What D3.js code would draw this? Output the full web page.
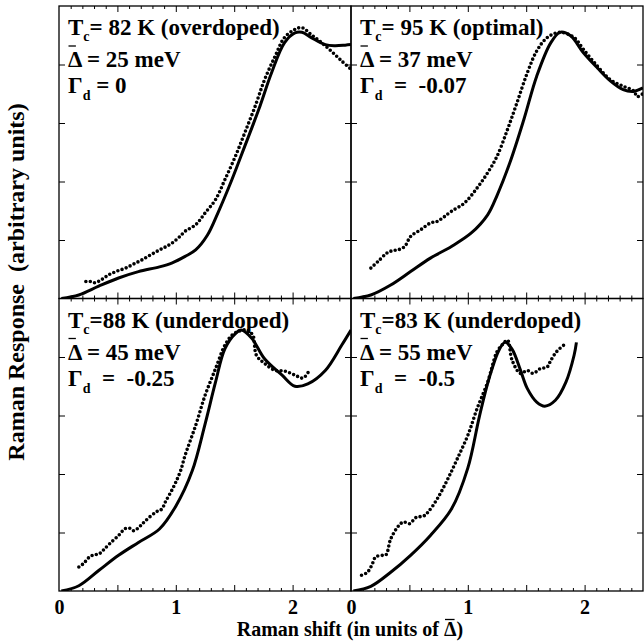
<!DOCTYPE html>
<html>
<head>
<meta charset="utf-8" />
<script src="https://cdn.jsdelivr.net/npm/d3@7"></script>
<style>
html, body {
  margin: 0;
  padding: 0;
  background: #fff;
}
svg text {
  font-family: "Liberation Serif", "DejaVu Serif", serif;
  font-weight: bold;
  fill: #000;
  white-space: pre;
}
.frame {
  fill: none;
  stroke: #000;
  stroke-width: 1.3;
}
.tick line {
  stroke: #000;
  stroke-width: 1;
}
.theory {
  fill: none;
  stroke: #000;
  stroke-width: 3;
}
.data {
  fill: none;
  stroke: #000;
  stroke-width: 3.6;
  stroke-linecap: round;
  stroke-dasharray: 0 4.4;
}
</style>
</head>
<body>
<div id="chart"></div>
<script>
// ---- values (x in units of gap, y in arbitrary units 0..5)
var tcText    = ["= 82 K (overdoped)", "= 95 K (optimal)", "=88 K (underdoped)", "=83 K (underdoped)"];
var gapText   = [" = 25 meV", " = 37 meV", " = 45 meV", " = 55 meV"];
var gammaText = [" = 0", "  =  -0.07", "  =  -0.25", "  =  -0.5"];

var theoryAx = [0.02, 0.17, 0.34, 0.51, 0.68, 0.86, 0.97, 1.08, 1.17, 1.27, 1.36, 1.48, 1.59, 1.71, 1.82, 1.93, 2.02, 2.08, 2.16, 2.28, 2.36, 2.45, 2.5];
var theoryAy = [0, 0.06, 0.21, 0.35, 0.46, 0.54, 0.61, 0.72, 0.83, 1.08, 1.46, 2.03, 2.60, 3.23, 3.86, 4.37, 4.54, 4.55, 4.46, 4.34, 4.32, 4.33, 4.34];
var dataAx = [0.23, 0.27, 0.31, 0.37, 0.43, 0.50, 0.57, 0.64, 0.71, 0.78, 0.86, 0.92, 0.97, 1.03, 1.08, 1.17, 1.25, 1.34, 1.42, 1.51, 1.59, 1.68, 1.76, 1.85, 1.93, 2.02, 2.08, 2.16, 2.25, 2.33, 2.42, 2.5];
var dataAy = [0.29, 0.29, 0.27, 0.33, 0.41, 0.47, 0.52, 0.59, 0.66, 0.74, 0.83, 0.89, 0.95, 1.05, 1.15, 1.26, 1.46, 1.69, 2.03, 2.43, 2.83, 3.29, 3.74, 4.14, 4.46, 4.60, 4.63, 4.51, 4.37, 4.23, 4.06, 3.92];

var theoryBx = [0.02, 0.17, 0.34, 0.51, 0.68, 0.86, 1.03, 1.17, 1.25, 1.36, 1.48, 1.59, 1.71, 1.79, 1.88, 1.99, 2.11, 2.22, 2.33, 2.42, 2.5];
var theoryBy = [0, 0.06, 0.23, 0.46, 0.69, 0.89, 1.12, 1.43, 1.76, 2.32, 3.06, 3.80, 4.37, 4.55, 4.49, 4.20, 3.94, 3.72, 3.57, 3.54, 3.60];
var dataBx = [0.17, 0.23, 0.31, 0.36, 0.40, 0.46, 0.51, 0.60, 0.68, 0.74, 0.80, 0.86, 0.97, 1.08, 1.17, 1.25, 1.34, 1.42, 1.51, 1.59, 1.68, 1.79, 1.91, 1.99, 2.11, 2.22, 2.33, 2.42, 2.45, 2.48, 2.5];
var dataBy = [0.52, 0.63, 0.78, 0.82, 0.83, 0.89, 1.06, 1.18, 1.29, 1.32, 1.40, 1.49, 1.63, 1.89, 2.15, 2.43, 2.89, 3.34, 3.86, 4.23, 4.46, 4.55, 4.46, 4.26, 3.97, 3.74, 3.63, 3.55, 3.45, 3.48, 3.50];

var theoryCx = [0.02, 0.17, 0.34, 0.51, 0.68, 0.86, 1.0, 1.14, 1.25, 1.34, 1.42, 1.51, 1.56, 1.65, 1.76, 1.91, 2.02, 2.13, 2.28, 2.42, 2.5];
var theoryCy = [0, 0.09, 0.35, 0.61, 0.83, 1.06, 1.45, 2.05, 2.85, 3.57, 4.14, 4.40, 4.46, 4.32, 3.97, 3.69, 3.50, 3.54, 3.77, 4.20, 4.46];
var dataCx = [0.17, 0.21, 0.26, 0.30, 0.34, 0.38, 0.43, 0.51, 0.57, 0.61, 0.64, 0.69, 0.74, 0.83, 0.88, 0.91, 0.96, 1.0, 1.04, 1.08, 1.17, 1.25, 1.34, 1.42, 1.48, 1.54, 1.61, 1.66, 1.69, 1.76, 1.85, 1.93, 2.02, 2.09, 2.14];
var dataCy = [0.41, 0.47, 0.58, 0.62, 0.63, 0.70, 0.80, 0.95, 1.07, 1.07, 1.03, 1.10, 1.20, 1.35, 1.40, 1.52, 1.70, 1.86, 2.05, 2.32, 2.83, 3.34, 3.80, 4.20, 4.37, 4.44, 4.46, 4.37, 4.03, 3.89, 3.77, 3.76, 3.69, 3.64, 3.76];

var theoryDx = [0.02, 0.17, 0.34, 0.51, 0.68, 0.86, 1.0, 1.10, 1.18, 1.27, 1.32, 1.38, 1.45, 1.51, 1.59, 1.66, 1.75, 1.84, 1.91, 1.93];
var theoryDy = [0, 0.08, 0.32, 0.61, 0.95, 1.40, 2.10, 2.99, 3.62, 4.13, 4.25, 4.13, 3.78, 3.46, 3.23, 3.16, 3.26, 3.57, 4.03, 4.25];
var dataDx = [0.09, 0.14, 0.18, 0.21, 0.27, 0.30, 0.34, 0.41, 0.45, 0.50, 0.56, 0.62, 0.66, 0.74, 0.83, 0.91, 1.0, 1.08, 1.17, 1.25, 1.30, 1.34, 1.38, 1.45, 1.51, 1.56, 1.62, 1.68, 1.71, 1.76, 1.82];
var dataDy = [0.27, 0.32, 0.45, 0.58, 0.61, 0.62, 0.89, 1.12, 1.18, 1.15, 1.26, 1.28, 1.35, 1.58, 1.92, 2.26, 2.66, 3.12, 3.57, 4.09, 4.22, 4.29, 3.94, 3.72, 3.77, 3.72, 3.80, 3.83, 3.94, 4.09, 4.20];

var xLabels = [0, 1, 2];
var yTicks = [1, 2, 3, 4];

function zip(xs, ys) {
  return xs.map(function(x, i) { return [x, ys[i]]; });
}

var panels = [
  { col: 0, row: 0, theory: zip(theoryAx, theoryAy), data: zip(dataAx, dataAy) },
  { col: 1, row: 0, theory: zip(theoryBx, theoryBy), data: zip(dataBx, dataBy) },
  { col: 0, row: 1, theory: zip(theoryCx, theoryCy), data: zip(dataCx, dataCy) },
  { col: 1, row: 1, theory: zip(theoryDx, theoryDy), data: zip(dataDx, dataDy) }
];

var width = 644, height = 644;
var lefts = [59, 351], tops = [6, 298.5];
var pw = 292, ph = 292.5;

var svg = d3.select('#chart').append('svg')
  .attr('width', width)
  .attr('height', height);

var minorTicks = d3.range(1, 25).map(function(i) { return i / 10; })
  .filter(function(v) { return Math.abs(v * 2 - Math.round(v * 2)) > 1e-6; });
var majorTicks = [0.5, 1, 1.5, 2];

panels.forEach(function(p, k) {
  var x = d3.scaleLinear().domain([0, 2.5]).range([0, pw]);
  var y = d3.scaleLinear().domain([0, 5]).range([ph, 0]);

  var g = svg.append('g')
    .attr('transform', 'translate(' + lefts[p.col] + ',' + tops[p.row] + ')');

  var clipId = 'clip' + k;
  g.append('clipPath').attr('id', clipId)
    .append('rect').attr('width', pw).attr('height', ph);

  // ticks, all pointing inward
  function addAxis(axis, tx, ty) {
    var a = g.append('g').attr('transform', 'translate(' + tx + ',' + ty + ')').call(axis);
    a.select('.domain').remove();
    return a;
  }
  addAxis(d3.axisBottom(x).tickValues(majorTicks).tickSize(-6).tickFormat(''), 0, ph);
  addAxis(d3.axisBottom(x).tickValues(minorTicks).tickSize(-3).tickFormat(''), 0, ph);
  addAxis(d3.axisTop(x).tickValues(majorTicks).tickSize(-6).tickFormat(''), 0, 0);
  addAxis(d3.axisTop(x).tickValues(minorTicks).tickSize(-3).tickFormat(''), 0, 0);
  addAxis(d3.axisLeft(y).tickValues(yTicks).tickSize(-6).tickFormat(''), 0, 0);
  addAxis(d3.axisRight(y).tickValues(yTicks).tickSize(-6).tickFormat(''), pw, 0);

  if (p.row === 1) {
    var lab = addAxis(d3.axisBottom(x).tickValues(xLabels).tickSize(0)
      .tickFormat(d3.format('d')), 0, ph);
    lab.selectAll('text')
      .attr('y', 22.5).attr('dy', null)
      .style('font-size', '20px')
      .style('font-family', '"Liberation Serif", serif')
      .style('font-weight', 'bold');
  }

  var line = d3.line()
    .x(function(d) { return x(d[0]); })
    .y(function(d) { return y(d[1]); })
    .curve(d3.curveCatmullRom.alpha(0.5));

  var plot = g.append('g').attr('clip-path', 'url(#' + clipId + ')');
  plot.append('path').attr('class', 'theory').attr('d', line(p.theory));
  plot.append('path').attr('class', 'data').attr('d', line(p.data));

  g.append('rect').attr('class', 'frame').attr('width', pw).attr('height', ph);

  // annotation
  var fs = 23;
  var tx = 9;
  var t1 = g.append('text').attr('x', tx).attr('y', 29).style('font-size', fs + 'px');
  t1.append('tspan').text('T');
  t1.append('tspan').text('c').style('font-size', '14px').attr('dy', 6);
  t1.append('tspan').text(tcText[k]).attr('dy', -6);

  var t2 = g.append('text').attr('x', tx).attr('y', 61).style('font-size', fs + 'px');
  var delta = t2.append('tspan').text('\u0394');
  t2.append('tspan').text(gapText[k]);
  var dw = delta.node().getComputedTextLength();
  g.append('line')
    .attr('x1', tx + 0.5).attr('x2', tx + dw * 0.6)
    .attr('y1', 61 - 21).attr('y2', 61 - 21)
    .attr('stroke', '#000').attr('stroke-width', 1.3);

  var t3 = g.append('text').attr('x', tx).attr('y', 87).style('font-size', fs + 'px');
  t3.append('tspan').text('\u0393');
  t3.append('tspan').text('d').style('font-size', '14px').attr('dy', 7);
  t3.append('tspan').text(gammaText[k]).attr('dy', -7);
});

// axis titles
var titleY = 636;
var xt = svg.append('text')
  .attr('x', 350).attr('y', titleY)
  .attr('text-anchor', 'middle')
  .style('font-size', '20px');
xt.append('tspan').text('Raman shift (in units of ');
xt.append('tspan').text('\u0394');
xt.append('tspan').text(')');
var dStart = xt.node().getStartPositionOfChar(25);
var dExt = xt.node().getExtentOfChar(25);
svg.append('line')
  .attr('x1', dStart.x + 1).attr('x2', dStart.x + dExt.width - 2)
  .attr('y1', titleY - 16.5).attr('y2', titleY - 16.5)
  .attr('stroke', '#000').attr('stroke-width', 1.3);

svg.append('text')
  .attr('transform', 'translate(24,282) rotate(-90)')
  .attr('text-anchor', 'middle')
  .style('font-size', '24px')
  .text('Raman Response  (arbitrary units)');
</script>
</body>
</html>
